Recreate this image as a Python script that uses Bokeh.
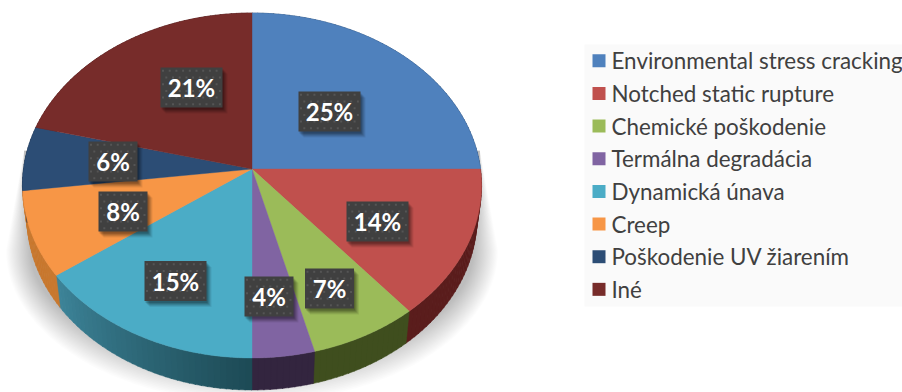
import numpy as np
from bokeh.core.properties import value
from bokeh.embed import file_html
from bokeh.models import Range1d
from bokeh.plotting import figure
from bokeh.resources import INLINE

# Shares of pipe failure causes, in percent
categories = ["Environmental stress cracking", "Notched static rupture", "Chemické poškodenie",
              "Termálna degradácia", "Dynamická únava", "Creep", "Poškodenie UV žiarením", "Iné"]
shares = [25, 14, 7, 4, 15, 8, 6, 21]

top_colors = ["#4f81bd", "#c0504d", "#9bbb59", "#8064a2", "#4bacc6", "#f79646", "#2c4d75", "#772c2a"]
wall_left = ["#2f4d71", "#5a1d1c", "#3f4e1e", "#33253f", "#1d4a55", "#c8782f", "#1a2e46", "#471a19"]
wall_right = ["#2f4d71", "#5a1d1c", "#3f4e1e", "#33253f", "#3d8499", "#c8782f", "#1a2e46", "#471a19"]

# Centres of the percentage boxes, in page pixels
label_x = [329, 377, 329, 268.5, 175, 122.5, 112.5, 191]
label_y = [111, 221, 288, 296, 280.5, 211, 161, 87]

# Perspective projection of the tilted disc
CX, CY, RX, RY, TILT = 251.5, 168.5, 228.5, 170.9, 0.0957
DEPTH, SHRINK = 32.0, 0.98


def rim(theta):
    u = np.cos(theta)
    d = 1 + TILT * u
    return CX + RX * np.sin(theta) / d, CY - RY * u / d


def lerp_hex(a, b, t):
    ca = np.array([int(a[i:i + 2], 16) for i in (1, 3, 5)])
    cb = np.array([int(b[i:i + 2], 16) for i in (1, 3, 5)])
    c = np.round(ca + (cb - ca) * t).astype(int)
    return "#%02x%02x%02x" % tuple(c)


p = figure(width=902, height=392, x_range=Range1d(0, 902), y_range=Range1d(392, 0),
           x_axis_type=None, y_axis_type=None, toolbar_location=None, output_backend="svg",
           min_border=0, outline_line_color=None, background_fill_color="white")
p.grid.visible = False

# Soft shadow under the disc: stacked translucent outlines that grow outwards
layers = 22
for i in range(layers):
    t = i / (layers - 1)
    rx, ry = 222 + 24 * t, 118 + 34 * t
    a = np.linspace(0, np.pi, 60)
    xs = list(CX + rx * np.cos(a))
    ys = list(250 + ry * np.sin(a))
    xs = [CX + 228] + xs + [CX - 228]
    ys = [150] + ys + [150]
    p.patch(xs, ys, fill_color="black", fill_alpha=0.0125, line_color=None)

edges = np.cumsum([0] + shares) / sum(shares) * 2 * np.pi

# Side wall, drawn in short quads so that its shade can vary along the rim
for k in range(len(shares)):
    a0, a1 = edges[k], edges[k + 1]
    n = max(2, int((a1 - a0) * 40))
    grid = np.linspace(a0, a1, n + 1)
    for j in range(n):
        th = np.linspace(grid[j], grid[j + 1] + 0.004, 3)
        x, y = rim(th)
        lx = CX + (x - CX) * SHRINK
        ly = y + DEPTH
        col = lerp_hex(wall_left[k], wall_right[k], (j + 0.5) / n)
        p.patch(list(x) + list(lx[::-1]), list(y) + list(ly[::-1]), fill_color=col, line_color=col, line_width=0.5)

# Top face of the disc
for k in range(len(shares)):
    th = np.linspace(edges[k], edges[k + 1], 70)
    x, y = rim(th)
    p.patch([CX] + list(x), [CY] + list(y), fill_color=top_colors[k], line_color=top_colors[k], line_width=0.4)

# Percentage boxes with a drop shadow and a staggered dot texture
box_w = [62 if s >= 10 else 49 for s in shares]
for off, al in [(6, 0.07), (5, 0.09), (4, 0.11), (3, 0.13), (2, 0.15)]:
    p.rect([x + off - 1 for x in label_x], [y + off for y in label_y], width=box_w, height=40,
           fill_color="black", fill_alpha=al, line_color=None)
p.rect(label_x, label_y, width=box_w, height=40, fill_color="#404040", line_color=None)
dot_x, dot_y = [], []
for cx, cy, w in zip(label_x, label_y, box_w):
    for row in range(6):
        yy = cy - 20 + 3.3 + row * 6.7
        for col in range(10):
            xx = cx - w / 2 + 2.5 + (row % 2) * 3.3 + col * 6.7
            if xx < cx + w / 2 - 1.5:
                dot_x.append(xx)
                dot_y.append(yy)
p.rect(dot_x, dot_y, width=2, height=2, fill_color="#555555", line_color=None)
p.text(label_x, label_y, text=[f"{s}%" for s in shares], text_color="white",
       text_font=value("Lato"), text_font_style="bold", text_font_size="24px",
       text_align="center", text_baseline="middle")

# Legend panel
leg_y = [60.3 + 32.65 * i for i in range(len(categories))]
p.rect([743], [175], width=318, height=262, fill_color="#fafafa", line_color=None)
p.rect([598.5] * len(categories), leg_y, width=13, height=13, fill_color=top_colors,
       line_color=None)
p.text([611] * len(categories), leg_y, text=categories, text_color="#404040",
       text_font=value("Lato"), text_font_size="22.4px", text_align="left", text_baseline="middle")

open("out.html", "w").write(file_html(p, INLINE))
